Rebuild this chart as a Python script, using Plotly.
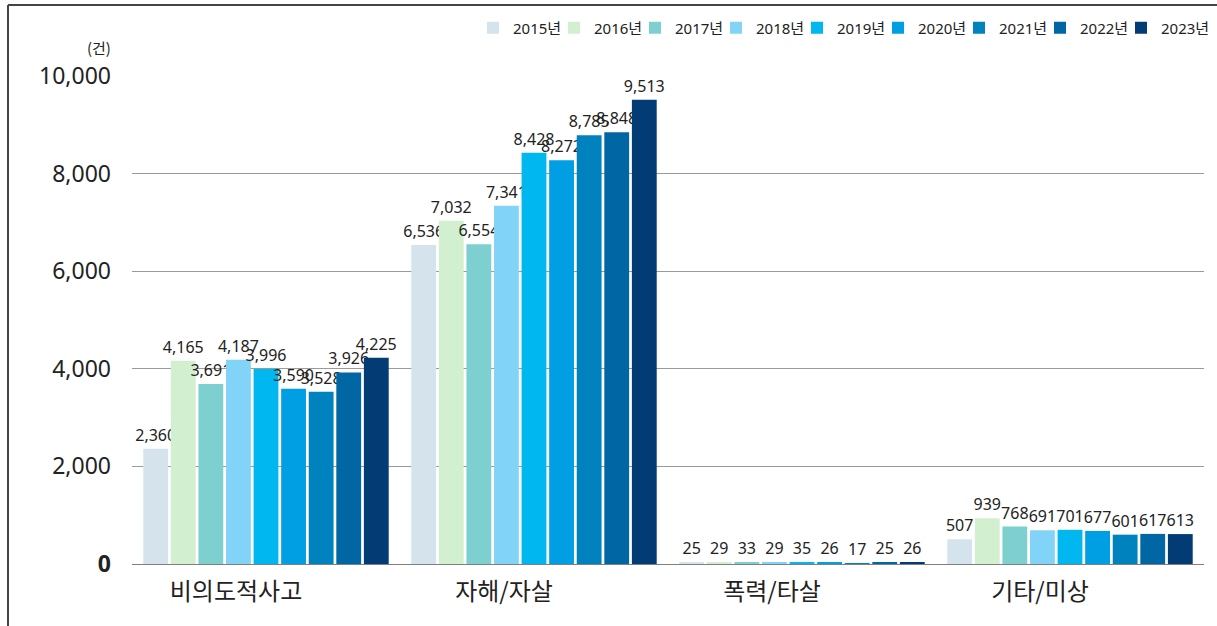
import plotly.graph_objects as go

categories = ["비의도적사고", "자해/자살", "폭력/타살", "기타/미상"]
years = ["2015년", "2016년", "2017년", "2018년", "2019년", "2020년", "2021년", "2022년", "2023년"]
v2015 = [2360, 6536, 25, 507]
v2016 = [4165, 7032, 29, 939]
v2017 = [3691, 6554, 33, 768]
v2018 = [4187, 7341, 29, 691]
v2019 = [3996, 8428, 35, 701]
v2020 = [3590, 8272, 26, 677]
v2021 = [3528, 8785, 17, 601]
v2022 = [3926, 8848, 25, 617]
v2023 = [4225, 9513, 26, 613]
series = [v2015, v2016, v2017, v2018, v2019, v2020, v2021, v2022, v2023]
colors = ["#D5E4EC", "#D2EFD0", "#7ECFCF", "#82D3F8", "#00B7EF",
          "#009FE3", "#0082BE", "#0066A4", "#033B74"]
ytick_vals = [0, 2000, 4000, 6000, 8000, 10000]
ytick_text = ["<b>0</b>", "2,000", "4,000", "6,000", "8,000", "10,000"]

FONT = "Noto Sans, Noto Sans CJK KR, sans-serif"
KFONT = "Noto Sans CJK KR, Noto Sans, sans-serif"
W, H = 1217, 626
L, R, T, B = 132, 13, 76, 62
PW, PH = W - L - R, H - T - B

def px(x):
    return (x - L) / PW

def py(y):
    return (H - B - y) / PH

fig = go.Figure()
for name, vals, col in zip(years, series, colors):
    fig.add_trace(go.Bar(
        x=categories, y=vals, name=name,
        marker=dict(color=col, line=dict(width=0)),
        text=[f"{v:,}" for v in vals],
        textposition="outside",
        constraintext="none",
        cliponaxis=False,
        textfont=dict(size=16, color="#222222", family=FONT),
    ))

# invisible spacer entry so the last legend label is not clipped
fig.add_trace(go.Scatter(
    x=[None], y=[None], mode="markers", name=" ",
    marker=dict(color="rgba(0,0,0,0)"), hoverinfo="skip", showlegend=True,
))

fig.update_layout(
    width=W, height=H,
    margin=dict(l=L, r=R, t=T, b=B, autoexpand=False),
    paper_bgcolor="white", plot_bgcolor="white",
    barmode="group", bargap=0.074, bargroupgap=0.1,
    font=dict(family=FONT, color="#222222"),
    showlegend=True,
    legend=dict(
        orientation="h", x=px(1283), xanchor="right", y=py(28), yanchor="middle",
        font=dict(size=15, color="#222222", family=FONT),
        entrywidth=36, entrywidthmode="pixels",
        traceorder="normal", bgcolor="rgba(0,0,0,0)",
    ),
    xaxis=dict(
        showgrid=False, showline=True, linecolor="#808080", linewidth=1,
        tickfont=dict(size=24, color="#222222", family=KFONT),
        ticklabelshift=-30, ticklabelstandoff=6, automargin=False,
    ),
    yaxis=dict(
        range=[0, 10000], tickvals=ytick_vals, ticktext=ytick_text,
        showgrid=True, gridcolor="#9A9A9A", gridwidth=1,
        zeroline=False, showline=False,
        tickfont=dict(size=23, color="#222222", family=FONT),
        ticklabelstandoff=20, automargin=False,
    ),
    annotations=[dict(
        text="(건)", x=px(113), y=py(47), xref="paper", yref="paper",
        xanchor="right", yanchor="middle", showarrow=False,
        font=dict(size=15, color="#222222", family=KFONT),
    )],
    shapes=[
        dict(type="line", xref="paper", yref="paper",
             x0=px(8), x1=px(8), y0=py(5), y1=py(640),
             line=dict(color="#444444", width=2)),
        dict(type="line", xref="paper", yref="paper",
             x0=px(8), x1=px(1230), y0=py(5), y1=py(5),
             line=dict(color="#444444", width=2)),
    ],
)

fig.write_html(
    "out.html",
    config={"displayModeBar": False},
    post_script="document.body.style.margin='0';document.body.style.overflow='hidden';",
)
